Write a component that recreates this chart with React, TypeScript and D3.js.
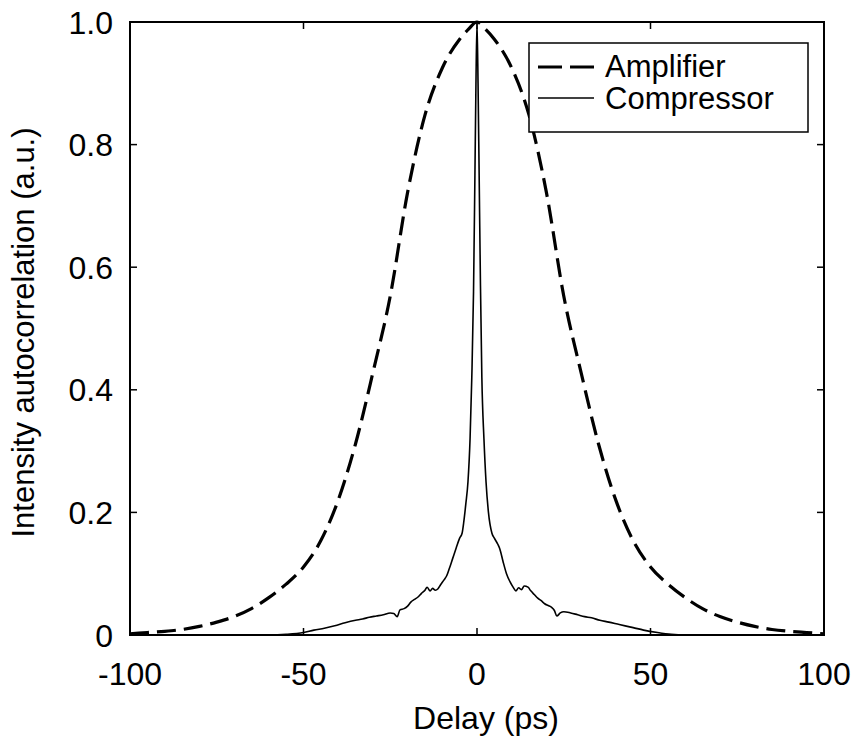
import React, { useEffect, useRef } from "react";
import * as d3 from "d3";

// amplifier autocorrelation (dashed)
const ampDelay = [-100, -95, -90, -85, -80, -75, -70, -65, -60, -55, -50, -45, -40, -35, -30, -25, -20, -15, -10, -5, -2.5, 0,
  2.5, 5, 10, 15, 20, 25, 30, 35, 40, 45, 50, 55, 60, 65, 70, 75, 80, 85, 90, 95, 100];
const ampValue = [0.002, 0.004, 0.006, 0.009, 0.014, 0.021, 0.03, 0.043, 0.061, 0.083, 0.111, 0.154, 0.22, 0.312, 0.428, 0.553, 0.722, 0.848, 0.925, 0.972, 0.988, 1.0,
  0.988, 0.972, 0.925, 0.848, 0.722, 0.553, 0.428, 0.312, 0.22, 0.154, 0.111, 0.083, 0.061, 0.043, 0.03, 0.021, 0.014, 0.009, 0.006, 0.004, 0.002];

// compressor autocorrelation (thin solid)
const compDelay = [-100, -60, -55, -50, -47, -44, -41, -38, -35, -33, -31, -29, -27, -25, -24, -23, -22.2, -21, -20, -19, -18, -17, -16, -15, -14.4,
  -13.5, -12.8, -12, -11.3, -10.5, -9.5, -8.7, -8, -7, -6, -5, -4.3, -3.8, -3.2, -2.6, -2, -1.5, -1.0, -0.6, -0.3, 0,
  0.3, 0.6, 1.0, 1.4, 2, 2.6, 3.3, 4.3, 5, 6, 6.6, 7.5, 8.5, 9.5, 10.4, 11.2, 12, 12.8, 13.6, 14.7, 15.5, 16.5, 17.5,
  18.5, 19.5, 20.5, 21.5, 22.3, 23, 24, 25, 27, 29, 31, 33, 35.4, 38, 41, 45, 48, 52, 56, 60, 100];
const compValue = [0, 0, 0.001, 0.004, 0.008, 0.011, 0.015, 0.02, 0.024, 0.026, 0.029, 0.031, 0.033, 0.036, 0.035, 0.03, 0.041, 0.043, 0.047, 0.054, 0.058, 0.062, 0.068, 0.073, 0.078,
  0.072, 0.076, 0.073, 0.075, 0.082, 0.09, 0.097, 0.108, 0.125, 0.142, 0.158, 0.166, 0.185, 0.215, 0.25, 0.32, 0.42, 0.56, 0.75, 0.9, 1.0,
  0.9, 0.76, 0.57, 0.42, 0.32, 0.25, 0.2, 0.166, 0.158, 0.148, 0.14, 0.12, 0.1, 0.087, 0.078, 0.072, 0.077, 0.074, 0.08, 0.078, 0.072, 0.066, 0.06,
  0.056, 0.051, 0.048, 0.045, 0.04, 0.031, 0.036, 0.038, 0.036, 0.033, 0.03, 0.028, 0.024, 0.021, 0.017, 0.012, 0.008, 0.004, 0.001, 0, 0];

const xTicks = [-100, -50, 0, 50, 100];
const yTicks = [0, 0.2, 0.4, 0.6, 0.8, 1.0];
const seriesNames = ["Amplifier", "Compressor"];

const FONT = "'Liberation Sans', Arial, Helvetica, sans-serif";

export default function App() {
  const ref = useRef<SVGSVGElement>(null);

  useEffect(() => {
    const svg = d3.select(ref.current);
    svg.selectAll("*").remove();

    const left = 130, right = 824, top = 22, bottom = 635;
    const x = d3.scaleLinear().domain([-100, 100]).range([left, right]);
    const y = d3.scaleLinear().domain([0, 1]).range([bottom, top]);

    const g = svg.append("g").attr("font-family", FONT).attr("fill", "#000");

    const line = d3.line<[number, number]>()
      .x(d => x(d[0]))
      .y(d => y(d[1]))
      .curve(d3.curveMonotoneX);

    const amp: [number, number][] = ampDelay.map((d, i) => [d, ampValue[i]]);
    const comp: [number, number][] = compDelay.map((d, i) => [d, compValue[i]]);

    g.append("path")
      .attr("d", line(comp))
      .attr("fill", "none")
      .attr("stroke", "#000")
      .attr("stroke-width", 1.6);

    g.append("path")
      .attr("d", line(amp))
      .attr("fill", "none")
      .attr("stroke", "#000")
      .attr("stroke-width", 3.2)
      .attr("stroke-dasharray", "19 8");

    // ticks, inward on all four sides
    const tickLen = 7;
    const tk = g.append("g").attr("stroke", "#000").attr("stroke-width", 1.5);
    xTicks.forEach(t => {
      tk.append("line").attr("x1", x(t)).attr("x2", x(t)).attr("y1", bottom).attr("y2", bottom - tickLen);
      tk.append("line").attr("x1", x(t)).attr("x2", x(t)).attr("y1", top).attr("y2", top + tickLen);
    });
    yTicks.forEach(t => {
      tk.append("line").attr("x1", left).attr("x2", left + tickLen).attr("y1", y(t)).attr("y2", y(t));
      tk.append("line").attr("x1", right).attr("x2", right - tickLen).attr("y1", y(t)).attr("y2", y(t));
    });

    // frame
    g.append("rect")
      .attr("x", left).attr("y", top)
      .attr("width", right - left).attr("height", bottom - top)
      .attr("fill", "none").attr("stroke", "#000").attr("stroke-width", 2);

    // tick labels
    g.selectAll(".xl")
      .data(xTicks)
      .join("text")
      .attr("x", d => x(d))
      .attr("y", 685)
      .attr("text-anchor", "middle")
      .attr("font-size", 32)
      .text(d => String(d));

    g.selectAll(".yl")
      .data(yTicks)
      .join("text")
      .attr("x", 113)
      .attr("y", d => y(d))
      .attr("dy", "0.36em")
      .attr("text-anchor", "end")
      .attr("font-size", 32)
      .text(d => (d === 0 ? "0" : d.toFixed(1)));

    // axis titles
    g.append("text")
      .attr("x", 486)
      .attr("y", 729)
      .attr("text-anchor", "middle")
      .attr("font-size", 32)
      .text("Delay (ps)");

    g.append("text")
      .attr("transform", `translate(34,${(top + bottom) / 2 + 4}) rotate(-90)`)
      .attr("text-anchor", "middle")
      .attr("font-size", 31)
      .text("Intensity autocorrelation (a.u.)");

    // legend
    const lg = g.append("g");
    lg.append("rect")
      .attr("x", 529).attr("y", 43)
      .attr("width", 279).attr("height", 89)
      .attr("fill", "#fff").attr("stroke", "#000").attr("stroke-width", 1.5);
    lg.append("line")
      .attr("x1", 538).attr("x2", 594).attr("y1", 67).attr("y2", 67)
      .attr("stroke", "#000").attr("stroke-width", 3.2).attr("stroke-dasharray", "24 8");
    lg.append("line")
      .attr("x1", 538).attr("x2", 594).attr("y1", 98).attr("y2", 98)
      .attr("stroke", "#000").attr("stroke-width", 1.6);
    lg.selectAll("text")
      .data(seriesNames)
      .join("text")
      .attr("x", 605)
      .attr("y", (d, i) => 77 + i * 32)
      .attr("font-size", 31)
      .text(d => d);
  }, []);

  return (
    <div>
      <svg ref={ref} width={860} height={740} style={{ display: "block", marginLeft: -8, marginTop: -8 }}></svg>
    </div>
  );
}
